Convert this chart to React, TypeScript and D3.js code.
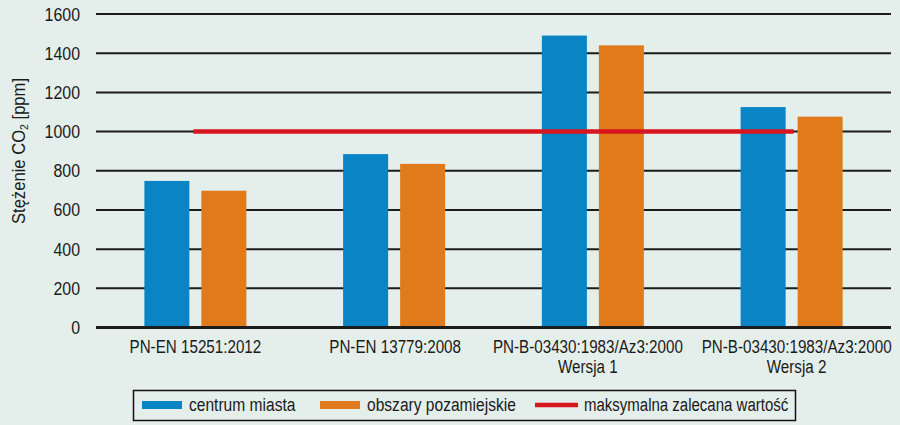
import React from "react";
import * as d3 from "d3";

const categories = [
  ["PN-EN 15251:2012"],
  ["PN-EN 13779:2008"],
  ["PN-B-03430:1983/Az3:2000", "Wersja 1"],
  ["PN-B-03430:1983/Az3:2000", "Wersja 2"],
];
const centrum = [748, 885, 1490, 1125];
const pozamiejskie = [698, 835, 1440, 1076];
const maxValue = 1000;
const yTicks = [0, 200, 400, 600, 800, 1000, 1200, 1400, 1600];
const seriesNames = ["centrum miasta", "obszary pozamiejskie", "maksymalna zalecana wartość"];

const W = 900, H = 425;
const FONT = "'Liberation Sans', Arial, sans-serif";
const BLUE = "#0984c4";
const ORANGE = "#e07a1b";
const RED = "#d9161f";
const INK = "#1a1a1a";
const labelNudge = [0, 1, -5, 5];

function CText(props: { x: number; y: number; anchor?: string; size?: number; sx?: number; rotate?: number; children: any }) {
  const { x, y, anchor = "start", size = 19, sx = 0.82, rotate = 0, children } = props;
  return (
    <text
      transform={`translate(${x},${y}) rotate(${rotate}) scale(${sx},1)`}
      textAnchor={anchor}
      fontFamily={FONT}
      fontSize={size}
      fill={INK}
    >
      {children}
    </text>
  );
}

export default function App() {
  const x = d3.scaleBand<number>().domain(d3.range(categories.length)).range([96, 891]);
  const y = d3.scaleLinear().domain([0, 1600]).range([327.5, 14]);
  const barW = 45;
  const gap = 12;
  const xc = (i: number) => (x(i) as number) + x.bandwidth() / 2;

  return (
    <svg width={W} height={H} style={{ position: "absolute", left: 0, top: 0, display: "block" }}>
      <rect x={0} y={0} width={W} height={H} fill="#e4eeea" />
      {yTicks.map((t) => (
        <g key={t}>
          <line x1={96} x2={891} y1={y(t)} y2={y(t)} stroke="#1c1c1c" strokeWidth={t === 0 ? 3 : 2} />
          <CText x={80} y={y(t) + 6.5} anchor="end" size={18.5} sx={0.86}>
            {t}
          </CText>
        </g>
      ))}
      {categories.map((c, i) => (
        <g key={i}>
          <rect x={xc(i) - gap / 2 - barW} y={y(centrum[i])} width={barW} height={y(0) - y(centrum[i]) - 1.5} fill={BLUE} />
          <rect x={xc(i) + gap / 2} y={y(pozamiejskie[i])} width={barW} height={y(0) - y(pozamiejskie[i]) - 1.5} fill={ORANGE} />
          {c.map((line, j) => (
            <CText key={j} x={xc(i) + labelNudge[i]} y={353 + j * 20} anchor="middle" size={19} sx={0.8}>
              {line}
            </CText>
          ))}
        </g>
      ))}
      <line x1={xc(0) - 2} x2={xc(3) + 2} y1={y(maxValue)} y2={y(maxValue)} stroke={RED} strokeWidth={4.5} />
      <CText x={25} y={151} anchor="middle" size={17.5} sx={0.95} rotate={-90}>
        <tspan>Stężenie CO</tspan>
        <tspan fontSize={11} dy={3}>2</tspan>
        <tspan dy={-3}> [ppm]</tspan>
      </CText>
      <g>
        <rect x={133.5} y={390.5} width={662} height={30} fill="none" stroke="#111" strokeWidth={1.5} />
        <rect x={142} y={401} width={40} height={8} fill={BLUE} />
        <CText x={189} y={411}>{seriesNames[0]}</CText>
        <rect x={320} y={401} width={40} height={8} fill={ORANGE} />
        <CText x={367} y={411}>{seriesNames[1]}</CText>
        <line x1={535} x2={578} y1={405} y2={405} stroke={RED} strokeWidth={4.5} />
        <CText x={584} y={411} sx={0.79}>{seriesNames[2]}</CText>
      </g>
    </svg>
  );
}
